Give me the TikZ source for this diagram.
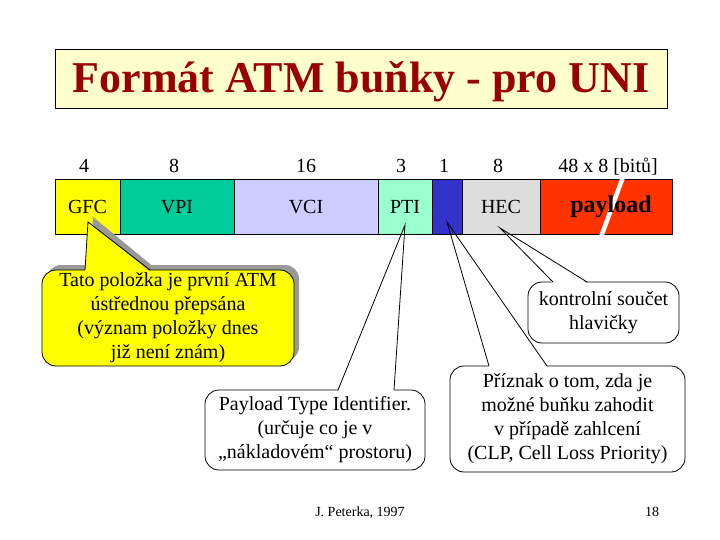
\documentclass[tikz,border=0pt]{standalone}
\usepackage{fontspec}
\setmainfont{Liberation Serif}
\usetikzlibrary{calc,shadows}
\definecolor{titlebg}{HTML}{FFFFCC}
\definecolor{titlefg}{HTML}{990000}
\definecolor{cgfc}{HTML}{FFFF00}
\definecolor{cvpi}{HTML}{00CC99}
\definecolor{cvci}{HTML}{CCCCFF}
\definecolor{cpti}{HTML}{99FFCC}
\definecolor{cclp}{HTML}{3333CC}
\definecolor{chec}{HTML}{DDDDDD}
\definecolor{cpay}{HTML}{FF3300}
\definecolor{shadowgray}{HTML}{999999}
\newcommand\ptrfill[5]{\fill[#2] ($(#1.north west)+(#3,1.5)$) -- (#5) -- ($(#1.north west)+(#4,1.5)$) -- cycle;}
\newcommand\ptrline[4]{\draw[ptr] ($(#1.north west)+(#2,0)$) -- (#4) -- ($(#1.north west)+(#3,0)$);}
\begin{document}
\begin{tikzpicture}[x=1pt,y=-1pt,
  cell/.style={draw, line width=1pt, anchor=north west, minimum height=54pt, inner sep=0pt, outer sep=0pt, font=\fontsize{20}{24}\selectfont},
  callout/.style={draw, line width=0.8pt, rounded corners=14pt, fill=white, align=center, inner sep=0pt, outer sep=0pt, font=\fontsize{20}{24}\selectfont},
  ptr/.style={line width=0.8pt, line join=miter},
  num/.style={anchor=base, font=\fontsize{20}{24}\selectfont, inner sep=0pt}]
\useasboundingbox (0,0) rectangle (720,540);

% title
\node[draw, line width=1pt, fill=titlebg, minimum width=612pt, minimum height=59pt, anchor=north west, inner sep=0pt] (titlebox) at (55,49) {};
\node[anchor=base, inner sep=0pt, text=titlefg, font=\fontsize{44}{48}\selectfont\bfseries] (title) at (361,93) {Formát ATM buňky - pro UNI};

% tip coordinates
\coordinate (tpti) at (405,225);
\coordinate (tclp) at (447,222);
\coordinate (thec) at (500,228);
\coordinate (tgfc) at (88,222);

% white callouts (fills first)
\node[callout, minimum width=220pt, minimum height=80pt] (note2) at (315,430) {Payload Type Identifier.\\(určuje co je v\\„nákladovém“ prostoru)};
\ptrfill{note2}{white}{133}{189}{tpti}
\node[callout, minimum width=151pt, minimum height=61pt] (note3) at (603.5,312.5) {kontrolní součet\\hlavičky};
\ptrfill{note3}{white}{25}{59}{thec}
\node[callout, minimum width=235pt, minimum height=106pt] (note4) at (567.5,419) {Příznak o tom, zda je\\možné buňku zahodit\\v případě zahlcení\\(CLP, Cell Loss Priority)};
\ptrfill{note4}{white}{39}{97}{tclp}

% bar
\node[cell, fill=cgfc, minimum width=65pt] (gfc) at (55,180) {GFC};
\node[cell, fill=cvpi, minimum width=114pt] (vpi) at (120,180) {VPI};
\node[cell, fill=cvci, minimum width=144pt] (vci) at (234,180) {VCI};
\node[cell, fill=cpti, minimum width=54pt] (pti) at (378,180) {PTI};
\node[cell, fill=cclp, minimum width=30pt] (clp) at (432,180) {};
\node[cell, fill=chec, minimum width=78pt] (hec) at (462,180) {HEC};
\node[cell, fill=cpay, minimum width=132pt] (pay) at (540,180) {};
\draw[white, line width=4.5pt] (623,177) -- (601,237);
\node[anchor=base, inner sep=0pt, font=\fontsize{24}{28}\selectfont\bfseries] (paytext) at (611,212) {payload};

% bit counts
\node[num] (n1) at (84,173) {4};
\node[num] (n2) at (174,173) {8};
\node[num] (n3) at (306,173) {16};
\node[num] (n4) at (401,173) {3};
\node[num] (n5) at (444,173) {1};
\node[num] (n6) at (498,173) {8};
\node[num] (n7) at (608,173) {48 x 8 [bitů]};

% pointer lines of white callouts
\ptrline{note2}{133}{189}{tpti}
\ptrline{note3}{25}{59}{thec}
\ptrline{note4}{39}{97}{tclp}

% yellow callout with shadow
\coordinate (yb1) at (85,270);
\coordinate (yb2) at (150,270);
\fill[shadowgray] ($(yb1)+(5,-2)$) -- ($(tgfc)+(5,-5)$) -- ($(yb2)+(5,-2)$) -- cycle;
\node[callout, fill=cgfc, minimum width=252pt, minimum height=96pt,
      drop shadow={shadow xshift=5pt, shadow yshift=5pt, fill=shadowgray, opacity=1}] (note1) at (168,318)
      {Tato položka je první ATM\\ústřednou přepsána\\(význam položky dnes\\již není znám)};
\ptrfill{note1}{cgfc}{43}{108}{tgfc}
\ptrline{note1}{43}{108}{tgfc}

% footer
\node[anchor=base, inner sep=0pt, font=\fontsize{14}{16}\selectfont] (author) at (360,516) {J. Peterka, 1997};
\node[anchor=base, inner sep=0pt, font=\fontsize{14}{16}\selectfont] (page) at (652,516) {18};
\end{tikzpicture}
\end{document}
